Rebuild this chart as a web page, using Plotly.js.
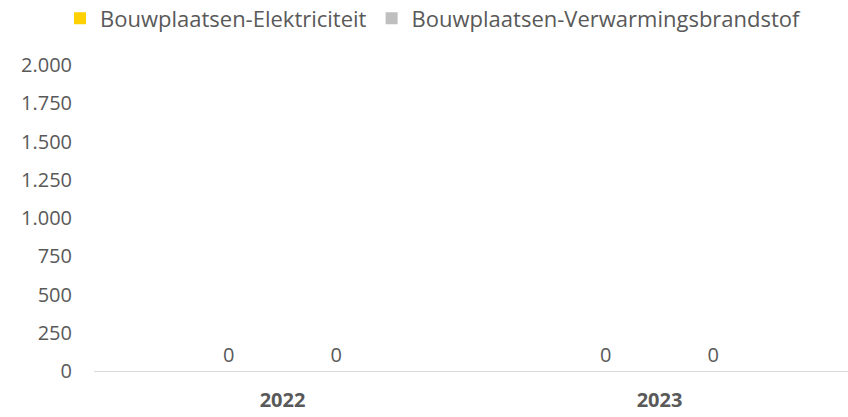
<!DOCTYPE html>
<html>
<head>
<meta charset="utf-8">
<script src="https://cdn.plot.ly/plotly-3.0.1.min.js"></script>
<style>
html,body{margin:0;padding:0;background:#fff;}
#chart{width:848px;height:417px;}
</style>
</head>
<body>
<div id="chart"></div>
<script>
const categories = ['2022', '2023'];
const seriesNames = ['Bouwplaatsen-Elektriciteit', 'Bouwplaatsen-Verwarmingsbrandstof'];
const elektriciteit = [0, 0];
const verwarmingsbrandstof = [0, 0];
const yTickValues = [0, 250, 500, 750, 1000, 1250, 1500, 1750, 2000];

const FONT = '"Open Sans", "Noto Sans", sans-serif';
const TEXT = '#595959';

const traces = [
  {
    type: 'bar', name: seriesNames[0], x: categories, y: elektriciteit,
    marker: {color: '#FFD100'},
    text: elektriciteit.map(String), textposition: 'outside', cliponaxis: false,
    textfont: {family: FONT, size: 20, color: TEXT}, hoverinfo: 'skip'
  },
  {
    type: 'bar', name: seriesNames[1], x: categories, y: verwarmingsbrandstof,
    marker: {color: '#BFBFBF'},
    text: verwarmingsbrandstof.map(String), textposition: 'outside', cliponaxis: false,
    textfont: {family: FONT, size: 20, color: TEXT}, hoverinfo: 'skip'
  }
];

const layout = {
  width: 848, height: 417,
  margin: {l: 94, r: 0, t: 65, b: 46, pad: 0},
  paper_bgcolor: '#ffffff', plot_bgcolor: '#ffffff',
  font: {family: FONT, size: 20, color: TEXT},
  separators: ',.',
  barmode: 'group', bargap: 0.43, bargroupgap: 0,
  showlegend: true,
  legend: {
    orientation: 'h', xref: 'container', yref: 'container',
    x: 60/848, xanchor: 'left', y: 1 - 18.5/417, yanchor: 'middle',
    font: {family: FONT, size: 22, color: TEXT},
    bgcolor: 'rgba(0,0,0,0)'
  },
  xaxis: {
    type: 'category', showgrid: false, zeroline: false,
    showline: true, linecolor: '#D9D9D9', linewidth: 1,
    ticks: '', tickfont: {family: FONT, size: 20, color: TEXT, weight: 'bold'},
    ticklabelstandoff: 11
  },
  yaxis: {
    range: [0, 2000], tickvals: yTickValues, tickformat: ',d',
    showgrid: false, zeroline: false, showline: false, ticks: '',
    tickfont: {family: FONT, size: 20, color: TEXT},
    ticklabelstandoff: 21
  }
};

Plotly.newPlot('chart', traces, layout, {displayModeBar: false, staticPlot: true});
</script>
</body>
</html>
